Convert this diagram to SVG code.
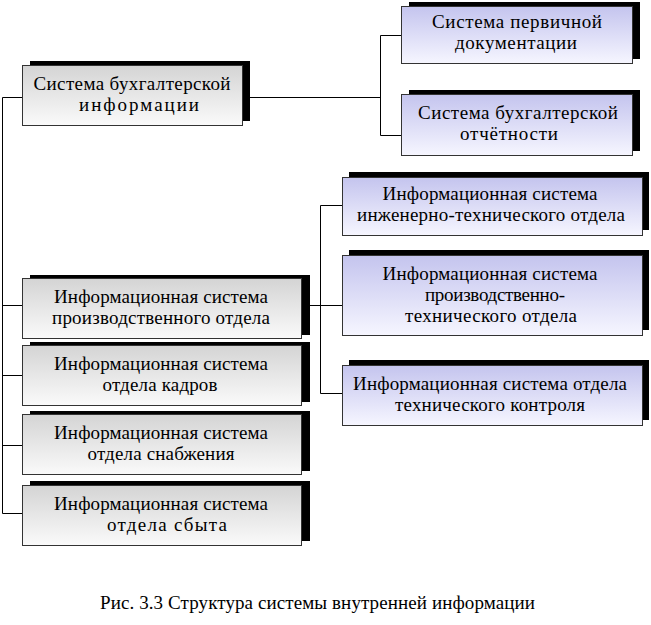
<svg xmlns="http://www.w3.org/2000/svg" width="651" height="625" viewBox="0 0 651 625">
<defs>
<linearGradient id="gGray" x1="0" y1="0" x2="0" y2="1">
<stop offset="0" stop-color="#d4d4d4"/><stop offset="1" stop-color="#fafafa"/>
</linearGradient>
<linearGradient id="gBlue" x1="0" y1="0" x2="0" y2="1">
<stop offset="0" stop-color="#c4c4ee"/><stop offset="1" stop-color="#f6f6ff"/>
</linearGradient>
<style>
.sh{fill:#000}
.gb{fill:url(#gGray);stroke:#333;stroke-width:1}
.bb{fill:url(#gBlue);stroke:#333;stroke-width:1}
.cn{fill:none;stroke:#000;stroke-width:1}
</style>
</defs>
<rect width="651" height="625" fill="#fff"/>
<g id="connectors">
<path class="cn" d="M242.5 97.5H380.5M380.5 35.5V135.5M380.5 35.5H401M380.5 135.5H401"/>
<path class="cn" d="M22 97.5H2.5V513.5M2.5 305.5H22M2.5 375.5H22M2.5 445.5H22M2.5 513.5H22"/>
<path class="cn" d="M302 305.5H342M320.5 205.5V393.5M320.5 205.5H342M320.5 393.5H342"/>
</g>
<g font-family="Liberation Serif" font-size="19" text-anchor="middle" fill="#000">
<g id="n-buh">
<rect class="sh" x="30" y="61" width="220" height="60"/>
<rect class="gb" x="22.5" y="65.5" width="220" height="60"/>
<text x="132" y="90" textLength="197" lengthAdjust="spacing">Система бухгалтерской</text>
<text x="139" y="111" textLength="120" lengthAdjust="spacing">информации</text>
</g>
<g id="n-perv">
<rect class="sh" x="409" y="2" width="231" height="57"/>
<rect class="bb" x="401.5" y="6.5" width="231" height="57"/>
<text x="517" y="28" textLength="170" lengthAdjust="spacing">Система первичной</text>
<text x="516" y="49" textLength="122" lengthAdjust="spacing">документации</text>
</g>
<g id="n-otch">
<rect class="sh" x="409" y="90" width="231" height="61"/>
<rect class="bb" x="401.5" y="94.5" width="231" height="61"/>
<text x="518" y="119" textLength="200" lengthAdjust="spacing">Система бухгалтерской</text>
<text x="509" y="140" textLength="98" lengthAdjust="spacing">отчётности</text>
</g>
<g id="n-proizv">
<rect class="sh" x="30" y="275" width="280" height="60"/>
<rect class="gb" x="22.5" y="278.5" width="279" height="60"/>
<text x="161" y="303" textLength="214" lengthAdjust="spacing">Информационная система</text>
<text x="161" y="324" textLength="218" lengthAdjust="spacing">производственного отдела</text>
</g>
<g id="n-kadr">
<rect class="sh" x="30" y="342" width="280" height="60"/>
<rect class="gb" x="22.5" y="345.5" width="279" height="60"/>
<text x="161" y="370" textLength="214" lengthAdjust="spacing">Информационная система</text>
<text x="160" y="391" textLength="115" lengthAdjust="spacing">отдела кадров</text>
</g>
<g id="n-snab">
<rect class="sh" x="30" y="411" width="280" height="60"/>
<rect class="gb" x="22.5" y="414.5" width="279" height="60"/>
<text x="161" y="439" textLength="214" lengthAdjust="spacing">Информационная система</text>
<text x="161" y="460" textLength="147" lengthAdjust="spacing">отдела снабжения</text>
</g>
<g id="n-sbyt">
<rect class="sh" x="30" y="481" width="280" height="60"/>
<rect class="gb" x="22.5" y="485.5" width="279" height="60"/>
<text x="161" y="510" textLength="214" lengthAdjust="spacing">Информационная система</text>
<text x="167" y="531" textLength="120" lengthAdjust="spacing">отдела сбыта</text>
</g>
<g id="n-inzh">
<rect class="sh" x="349" y="172" width="300" height="58"/>
<rect class="bb" x="342.5" y="177.5" width="300" height="58"/>
<text x="490" y="200" textLength="215" lengthAdjust="spacing">Информационная система</text>
<text x="491" y="221" textLength="268" lengthAdjust="spacing">инженерно-технического отдела</text>
</g>
<g id="n-pto">
<rect class="sh" x="349" y="250" width="300" height="80"/>
<rect class="bb" x="342.5" y="255.5" width="300" height="80"/>
<text x="490" y="280" textLength="215" lengthAdjust="spacing">Информационная система</text>
<text x="495" y="301" textLength="140" lengthAdjust="spacing">производственно-</text>
<text x="491" y="322" textLength="172" lengthAdjust="spacing">технического отдела</text>
</g>
<g id="n-otk">
<rect class="sh" x="349" y="360" width="300" height="60"/>
<rect class="bb" x="342.5" y="365.5" width="300" height="60"/>
<text x="490" y="390" textLength="274" lengthAdjust="spacing">Информационная система отдела</text>
<text x="490" y="411" textLength="190" lengthAdjust="spacing">технического контроля</text>
</g>
<text x="100" y="609" text-anchor="start" textLength="435" lengthAdjust="spacing">Рис. 3.3 Структура системы внутренней информации</text>
</g>
</svg>
